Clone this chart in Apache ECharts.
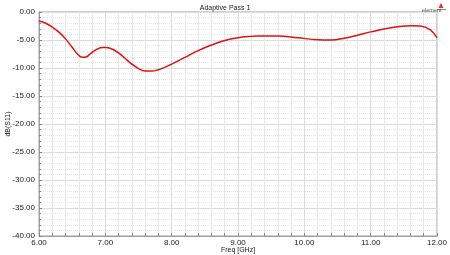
<!DOCTYPE html>
<html><head><meta charset="utf-8">
<script src="https://cdn.jsdelivr.net/npm/echarts@6/dist/echarts.min.js"></script>
<style>html,body{margin:0;padding:0;background:#fff}#c{width:450px;height:255px}</style>
</head><body><div id="c"></div>
<script>
var freq = [6.00,6.10,6.20,6.30,6.40,6.50,6.58,6.65,6.71,6.77,6.85,6.95,7.00,7.10,7.20,7.30,7.40,7.50,7.60,7.70,7.80,7.90,8.00,8.20,8.40,8.60,8.80,9.00,9.30,9.60,9.90,10.20,10.40,10.60,10.80,11.00,11.30,11.60,11.75,11.90,12.00];
var s11 = [-1.6,-2.0,-2.7,-3.6,-4.8,-6.3,-7.5,-8.1,-8.05,-7.5,-6.8,-6.35,-6.35,-6.6,-7.3,-8.3,-9.3,-10.1,-10.55,-10.55,-10.3,-9.85,-9.3,-8.1,-6.9,-5.9,-5.1,-4.6,-4.3,-4.3,-4.6,-4.95,-5.0,-4.7,-4.15,-3.55,-2.8,-2.45,-2.5,-3.2,-4.6];
var chartTitle = 'Adaptive Pass 1';
var xName = 'Freq [GHz]';
var yName = 'dB(S11)';
var brand = 'element';

var pts = freq.map(function(f,i){return [f, s11[i]];});
var chart = echarts.init(document.getElementById('c'));
var ff = 'Arial, "Liberation Sans", sans-serif';
chart.setOption({
  animation:false,
  backgroundColor:'#fff',
  title:[
    {text:chartTitle,left:'center',top:0,textStyle:{fontSize:7,fontWeight:'normal',color:'#222',fontFamily:ff}},
    {text:brand,left:417,top:2,textStyle:{fontSize:5.5,fontWeight:'normal',color:'#555',fontFamily:ff}}
  ],
  graphic:[
    {type:'polygon',shape:{points:[[441,3],[438.5,8],[443.5,8]]},style:{fill:'#d33'}},
    {type:'line',shape:{x1:437,y1:9.5,x2:446,y2:9.5},style:{stroke:'#888',lineWidth:1}}
  ],
  grid:{left:39,right:13,top:12,bottom:19,show:true,borderColor:'#a0a0a0',borderWidth:1,containLabel:false,outerBoundsMode:'none'},
  xAxis:{type:'value',min:6,max:12,interval:1,
    name:xName,nameLocation:'middle',nameGap:11,nameMoveOverlap:false,
    nameTextStyle:{fontSize:7,color:'#222',fontFamily:ff},
    axisLine:{show:true,onZero:false,lineStyle:{color:'#a0a0a0'}},
    axisTick:{show:true,inside:true,length:3,lineStyle:{color:'#888'}},
    minorTick:{show:true,splitNumber:5,length:3,lineStyle:{color:'#888'}},
    axisLabel:{fontSize:8,color:'#222',margin:3,fontFamily:ff,formatter:function(v){return v.toFixed(2);}},
    splitLine:{show:true,lineStyle:{color:'#dcdcdc',width:1}},
    minorSplitLine:{show:true,lineStyle:{color:'#e8e8e8',width:1}}
  },
  yAxis:{type:'value',min:-40,max:0,interval:5,
    name:yName,nameLocation:'middle',nameGap:27,nameRotate:90,nameMoveOverlap:false,
    nameTextStyle:{fontSize:7,color:'#222',fontFamily:ff},
    axisLine:{show:true,onZero:false,lineStyle:{color:'#a0a0a0'}},
    axisTick:{show:true,inside:true,length:3,lineStyle:{color:'#888'}},
    minorTick:{show:true,splitNumber:5,length:2,lineStyle:{color:'#888'}},
    axisLabel:{fontSize:8,color:'#222',margin:4,fontFamily:ff,formatter:function(v){return v.toFixed(2);}},
    splitLine:{show:true,lineStyle:{color:'#dcdcdc',width:1}},
    minorSplitLine:{show:true,lineStyle:{color:'#e6e6e6',width:1,type:'dotted'}}
  },
  series:[{type:'line',data:pts,smooth:0.4,showSymbol:false,
    lineStyle:{color:'#e01010',width:1.5}}]
});
</script></body></html>
